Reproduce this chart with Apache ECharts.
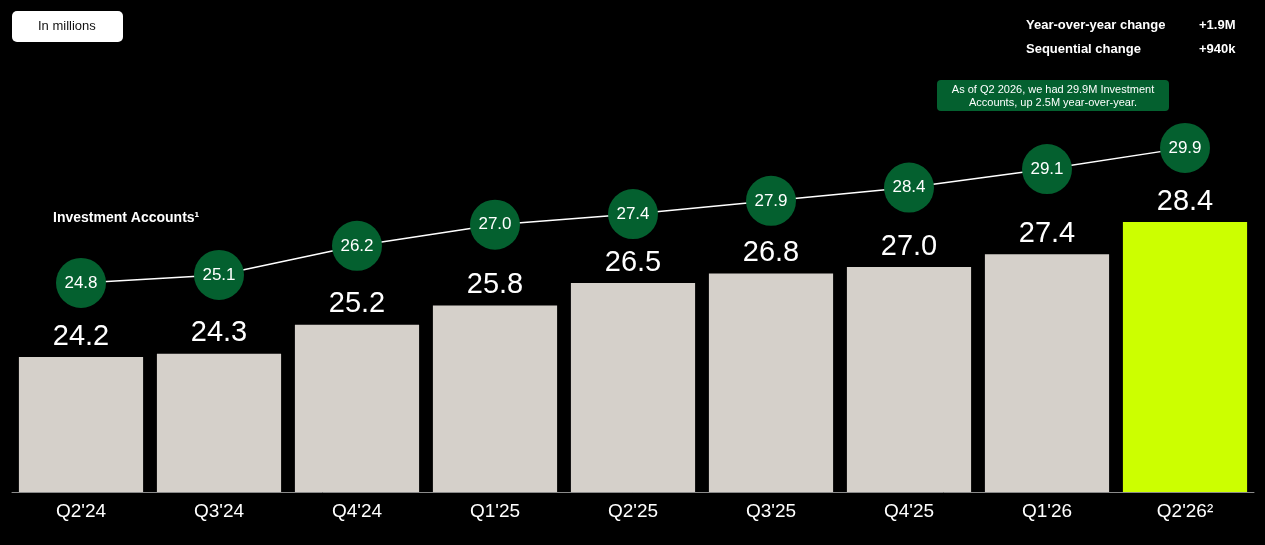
<!DOCTYPE html>
<html>
<head>
<meta charset="utf-8">
<script src="https://cdn.jsdelivr.net/npm/echarts@6.0.0/dist/echarts.min.js"></script>
<style>
  html, body { margin: 0; padding: 0; background: #000; }
  #chart { width: 1265px; height: 545px; }
</style>
</head>
<body>
<div id="chart"></div>
<script>
const categories = ["Q2'24", "Q3'24", "Q4'24", "Q1'25", "Q2'25", "Q3'25", "Q4'25", "Q1'26", "Q2'26²"];
const barValues = [24.2, 24.3, 25.2, 25.8, 26.5, 26.8, 27.0, 27.4, 28.4];
const lineValues = [24.8, 25.1, 26.2, 27.0, 27.4, 27.9, 28.4, 29.1, 29.9];

const FONT = '"Liberation Sans", Arial, sans-serif';
const GREEN = '#04602f';

const chart = echarts.init(document.getElementById('chart'));

chart.setOption({
  backgroundColor: '#000',
  animation: false,
  grid: { left: 12, right: 11, top: 42, bottom: 53 },
  xAxis: {
    type: 'category',
    data: categories,
    axisLine: { lineStyle: { color: '#8a8a8a', width: 1 } },
    axisTick: { show: false },
    axisLabel: { color: '#fff', fontSize: 19, fontFamily: FONT, margin: 10 }
  },
  yAxis: [
    { type: 'value', min: 20, max: 34, show: false },
    { type: 'value', min: 16.9, max: 33.9, show: false }
  ],
  series: [
    {
      type: 'bar',
      yAxisIndex: 0,
      barCategoryGap: '10%',
      data: barValues.map((v, i) => ({
        value: v,
        itemStyle: { color: i === barValues.length - 1 ? '#ccff00' : '#d5d0ca' }
      })),
      label: {
        show: true,
        position: 'top',
        distance: 6,
        color: '#fff',
        fontSize: 29,
        fontFamily: FONT,
        formatter: (p) => p.value.toFixed(1)
      }
    },
    {
      type: 'line',
      yAxisIndex: 1,
      data: lineValues,
      symbol: 'circle',
      symbolSize: 50,
      lineStyle: { color: '#fff', width: 1.5 },
      itemStyle: { color: GREEN },
      z: 5,
      label: {
        show: true,
        position: 'inside',
        color: '#fff',
        fontSize: 17,
        fontFamily: FONT,
        formatter: (p) => p.value.toFixed(1)
      }
    }
  ],
  graphic: [
    {
      type: 'rect',
      left: 12, top: 11,
      shape: { width: 111, height: 31, r: 5 },
      style: { fill: '#fff' }
    },
    {
      type: 'text',
      left: 38, top: 20,
      style: { text: 'In millions', fill: '#111', font: '13px ' + FONT }
    },
    {
      type: 'text',
      left: 1026, top: 19,
      style: { text: 'Year-over-year change', fill: '#fff', font: 'bold 13px ' + FONT }
    },
    {
      type: 'text',
      left: 1199, top: 19,
      style: { text: '+1.9M', fill: '#fff', font: 'bold 13px ' + FONT }
    },
    {
      type: 'text',
      left: 1026, top: 43,
      style: { text: 'Sequential change', fill: '#fff', font: 'bold 13px ' + FONT }
    },
    {
      type: 'text',
      left: 1199, top: 43,
      style: { text: '+940k', fill: '#fff', font: 'bold 13px ' + FONT }
    },
    {
      type: 'rect',
      left: 937, top: 80,
      shape: { width: 232, height: 31, r: 4 },
      style: { fill: GREEN }
    },
    {
      type: 'text',
      x: 1053, y: 96,
      style: {
        text: 'As of Q2 2026, we had 29.9M Investment\nAccounts, up 2.5M year-over-year.',
        fill: '#fff',
        font: '11px ' + FONT,
        align: 'center',
        verticalAlign: 'middle',
        lineHeight: 13
      }
    },
    {
      type: 'text',
      left: 53, top: 211,
      style: { text: 'Investment Accounts¹', fill: '#fff', font: 'bold 14px ' + FONT }
    }
  ]
});
</script>
</body>
</html>
